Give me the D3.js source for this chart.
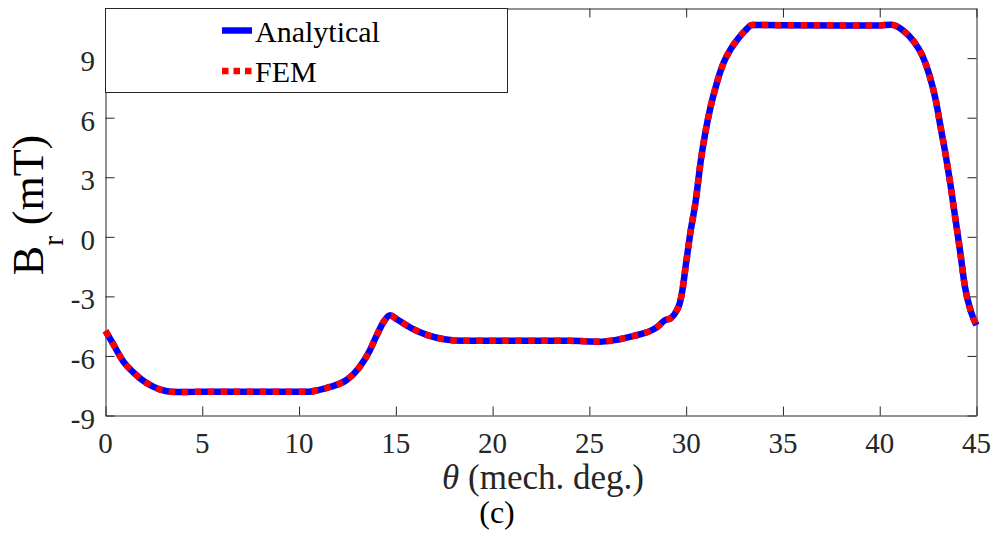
<!DOCTYPE html>
<html>
<head>
<meta charset="utf-8">
<script src="https://cdn.jsdelivr.net/npm/d3@7"></script>
<style>
  body { margin: 0; background: #fff; }
  svg { display: block; font-family: "Liberation Serif", "Times New Roman", serif; }
</style>
</head>
<body>
<svg width="998" height="537"></svg>
<script>
const svgWidth = 998;
const svgHeight = 537;

// mechanical angle (deg)
const theta = [0, 0.4, 0.9, 1.45, 2.1, 2.8, 3.4, 4, 5, 7, 9, 10.5, 11, 11.6, 12.5, 13.1, 13.6, 14.0, 14.4, 14.7,
  15.05, 15.9, 16.6, 17.5, 18.5, 20, 22, 24, 25.5, 26.4, 27.3, 28, 28.5, 28.9, 29.2, 29.5, 29.7, 29.8,
  30.0, 30.2, 30.5, 30.75, 31.0, 31.25, 31.6, 31.95, 32.3, 32.7, 33.05, 33.4, 35, 38, 40, 40.6, 41.2,
  41.75, 42.2, 42.55, 42.9, 43.15, 43.4, 43.65, 43.9, 44.15, 44.4, 44.7, 45];

// radial flux density (mT)
const analyticalBr = [-4.74, -5.41, -6.25, -6.84, -7.35, -7.68, -7.80, -7.82, -7.80, -7.80, -7.80, -7.80, -7.72, -7.56, -7.18, -6.59, -5.83, -4.99, -4.24, -3.95,
  -4.15, -4.65, -4.94, -5.16, -5.24, -5.24, -5.24, -5.24, -5.28, -5.19, -4.99, -4.80, -4.55, -4.20, -4.10, -3.73, -3.23, -2.72,
  -1.30, 0.10, 1.85, 3.80, 5.30, 6.50, 7.80, 8.80, 9.45, 10.00, 10.39, 10.67, 10.66, 10.65, 10.65, 10.68, 10.40,
  9.85, 9.13, 8.20, 6.86, 5.50, 4.17, 2.66, 0.97, -0.70, -2.50, -3.73, -4.45];

const femBr = [-4.74, -5.41, -6.25, -6.84, -7.35, -7.68, -7.80, -7.82, -7.80, -7.80, -7.80, -7.80, -7.72, -7.56, -7.18, -6.59, -5.83, -4.99, -4.24, -3.95,
  -4.15, -4.65, -4.94, -5.16, -5.24, -5.24, -5.24, -5.24, -5.28, -5.19, -4.99, -4.80, -4.55, -4.20, -4.10, -3.73, -3.23, -2.72,
  -1.30, 0.10, 1.85, 3.80, 5.30, 6.50, 7.80, 8.80, 9.45, 10.00, 10.39, 10.67, 10.66, 10.65, 10.65, 10.68, 10.40,
  9.85, 9.13, 8.20, 6.86, 5.50, 4.17, 2.66, 0.97, -0.70, -2.50, -3.73, -4.45];

const xTicks = [0, 5, 10, 15, 20, 25, 30, 35, 40, 45];
const yTicks = [-9, -6, -3, 0, 3, 6, 9];
const seriesNames = ["Analytical", "FEM"];

const svg = d3.select("svg");
const axisColor = "#262626";

const plot = { left: 105.5, right: 976.5, top: 8.5, bottom: 415.5 };

const xScaler = d3.scaleLinear().domain([0, 45]).range([plot.left, plot.right]);
const yScaler = d3.scaleLinear().domain([-9, 11.5]).range([plot.bottom, plot.top]);

// axes (MATLAB style box with inward ticks), labels drawn separately below
svg.append("g")
  .attr("transform", `translate(0, ${plot.bottom})`)
  .call(d3.axisBottom(xScaler).tickValues(xTicks).tickSize(-9).tickSizeOuter(0).tickFormat(""));
svg.append("g")
  .attr("transform", `translate(0, ${plot.top})`)
  .call(d3.axisTop(xScaler).tickValues(xTicks).tickSize(-9).tickSizeOuter(0).tickFormat(""));
svg.append("g")
  .attr("transform", `translate(${plot.left}, 0)`)
  .call(d3.axisLeft(yScaler).tickValues(yTicks).tickSize(-9).tickSizeOuter(0).tickFormat(""));
svg.append("g")
  .attr("transform", `translate(${plot.right}, 0)`)
  .call(d3.axisRight(yScaler).tickValues(yTicks).tickSize(-9).tickSizeOuter(0).tickFormat(""));

svg.selectAll(".domain").attr("stroke", axisColor);
svg.selectAll(".tick line").attr("stroke", axisColor);

// tick labels
svg.append("g")
  .selectAll("text")
  .data(xTicks)
  .join("text")
  .attr("x", d => xScaler(d))
  .attr("y", plot.bottom + 37.5)
  .attr("text-anchor", "middle")
  .attr("font-family", "Liberation Serif")
  .attr("font-size", 29)
  .attr("fill", axisColor)
  .text(d => String(d));

svg.append("g")
  .selectAll("text")
  .data(yTicks)
  .join("text")
  .attr("x", plot.left - 10.5)
  .attr("y", d => yScaler(d) + 13)
  .attr("text-anchor", "end")
  .attr("font-family", "Liberation Serif")
  .attr("font-size", 29)
  .attr("fill", axisColor)
  .text(d => String(d));

// curves
const line = d3.line()
  .x((d, i) => xScaler(theta[i]))
  .y(d => yScaler(d))
  .curve(d3.curveMonotoneX);

svg.append("path")
  .datum(analyticalBr)
  .attr("d", line)
  .attr("fill", "none")
  .attr("stroke", "#0000ff")
  .attr("stroke-width", 6.5);

svg.append("path")
  .datum(femBr)
  .attr("d", line)
  .attr("fill", "none")
  .attr("stroke", "#ff0000")
  .attr("stroke-width", 6.5)
  .attr("stroke-dasharray", "6.5,6.5");

// legend
const legend = svg.append("g");
legend.append("rect")
  .attr("x", plot.left).attr("y", plot.top)
  .attr("width", 507.5 - plot.left).attr("height", 92.5 - plot.top)
  .attr("fill", "#fff").attr("stroke", axisColor).attr("stroke-width", 1);

const legendItems = legend.selectAll("g.item")
  .data(seriesNames)
  .join("g")
  .attr("class", "item")
  .attr("transform", (d, i) => `translate(0, ${30.5 + i * 40.5})`);

legendItems.append("line")
  .attr("x1", 222).attr("x2", 252)
  .attr("stroke", (d, i) => i === 0 ? "#0000ff" : "#ff0000")
  .attr("stroke-width", 6.5)
  .attr("stroke-dasharray", (d, i) => i === 0 ? null : "6.5,5");

legendItems.append("text")
  .attr("x", 255).attr("y", 11)
  .style("font-size", "30px")
  .attr("fill", "#000")
  .text(d => d);

// axis labels
const xLabel = svg.append("text")
  .attr("x", 543).attr("y", 489)
  .attr("text-anchor", "middle")
  .style("font-size", "35px")
  .attr("fill", axisColor);
xLabel.append("tspan").style("font-style", "italic").text("θ");
xLabel.append("tspan").text(" (mech. deg.)");

const yLabel = svg.append("text")
  .attr("transform", "translate(43, 205) rotate(-90)")
  .attr("text-anchor", "middle")
  .style("font-size", "44px")
  .attr("fill", "#000");
yLabel.append("tspan").text("B");
yLabel.append("tspan").attr("dy", 20).style("font-size", "29px").text("r");
yLabel.append("tspan").attr("dy", -20).text(" (mT)");

svg.append("text")
  .attr("x", 497).attr("y", 523)
  .attr("text-anchor", "middle")
  .style("font-size", "32px")
  .attr("fill", "#000")
  .text("(c)");
</script>
</body>
</html>
